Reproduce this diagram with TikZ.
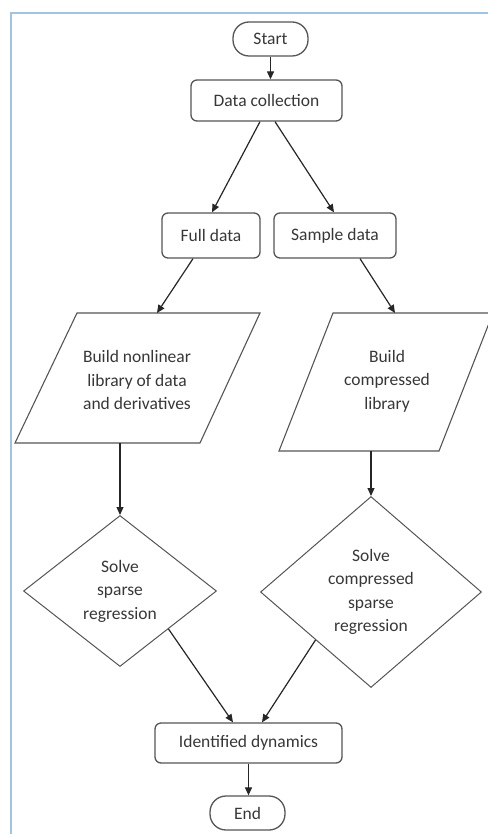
\documentclass[tikz,border=0pt]{standalone}
\usepackage{fontspec}
\setmainfont{Carlito}
\usetikzlibrary{shapes.geometric,arrows.meta}
\definecolor{frameblue}{RGB}{160,196,228}
\definecolor{txt}{RGB}{55,55,55}
\definecolor{edge}{RGB}{85,85,85}
\begin{document}
\begin{tikzpicture}[x=1pt,y=-1pt,
  fnt/.style={font=\fontsize{17.5}{23.5}\selectfont},
  box/.style={draw=edge,line width=1.3pt,rounded corners=6pt,text=txt,fnt,inner sep=0pt},
  term/.style={box,rounded corners=16pt},
  dia/.style={diamond,draw=edge,line width=1pt,text=txt,fnt,align=center,inner sep=0pt},
  para/.style={draw=edge,line width=1.1pt,line join=miter},
  lbl/.style={text=txt,fnt,align=center,inner sep=0pt},
  arr/.style={draw=black!85,line width=1.2pt,-{Triangle[length=8pt,width=7pt]}}
]
\useasboundingbox (0,0) rectangle (487,834);
\draw[frameblue,line width=2pt] (11,834) -- (11,13) -- (490,13);

\node[term,minimum width=75pt,minimum height=34pt] (start) at (270.5,39) {Start};
\node[box,minimum width=151pt,minimum height=41pt] (data) at (266.5,100.5) {Data collection};
\node[box,minimum width=98pt,minimum height=45pt] (full) at (211,235.5) {Full data};
\node[box,minimum width=122pt,minimum height=45pt] (sample) at (335,235.5) {Sample data};

% parallelogram 1
\coordinate (l1a) at (77,313);
\coordinate (l1b) at (260,313);
\coordinate (l1c) at (200,443);
\coordinate (l1d) at (15,443);
\draw[para] (l1a) -- (l1b) -- (l1c) -- (l1d) -- cycle;
\node[lbl] (lib1) at (137,380) {Build nonlinear\\library of data\\and derivatives};
\coordinate (l1in) at (157,313);
\coordinate (l1out) at (120,443);

% parallelogram 2
\coordinate (l2a) at (333,313);
\coordinate (l2b) at (493,313);
\coordinate (l2c) at (439,451);
\coordinate (l2d) at (279,451);
\draw[para] (l2a) -- (l2b) -- (l2c) -- (l2d) -- cycle;
\node[lbl] (lib2) at (387,381) {Build\\compressed\\library};
\coordinate (l2in) at (395,313);
\coordinate (l2out) at (371,451);

\node[dia,minimum width=193pt,minimum height=151pt] (d1) at (120,591) {Solve\\sparse\\regression};
\node[dia,minimum width=221pt,minimum height=191pt] (d2) at (371,592) {Solve\\compressed\\sparse\\regression};

\node[box,minimum width=187pt,minimum height=40pt] (id) at (248.5,743) {Identified dynamics};
\node[term,minimum width=75pt,minimum height=34pt] (end) at (247.5,813) {End};

\draw[arr] (start.south) -- (start.south |- data.north);
\draw[arr] ([xshift=-6.5pt]data.south) -- ([xshift=1pt]full.north);
\draw[arr] ([xshift=8.5pt]data.south) -- ([xshift=-1pt]sample.north);
\draw[arr] ([xshift=-18pt]full.south) -- (l1in);
\draw[arr] ([xshift=25pt]sample.south) -- (l2in);
\draw[arr] (l1out) -- (d1.north);
\draw[arr] (l2out) -- (d2.north);
\draw[arr] (d1.south east) -- ([xshift=-15.5pt]id.north);
\draw[arr] (d2.south west) -- ([xshift=13.5pt]id.north);
\draw[arr] (id.south) -- (id.south |- end.north);
\end{tikzpicture}
\end{document}
